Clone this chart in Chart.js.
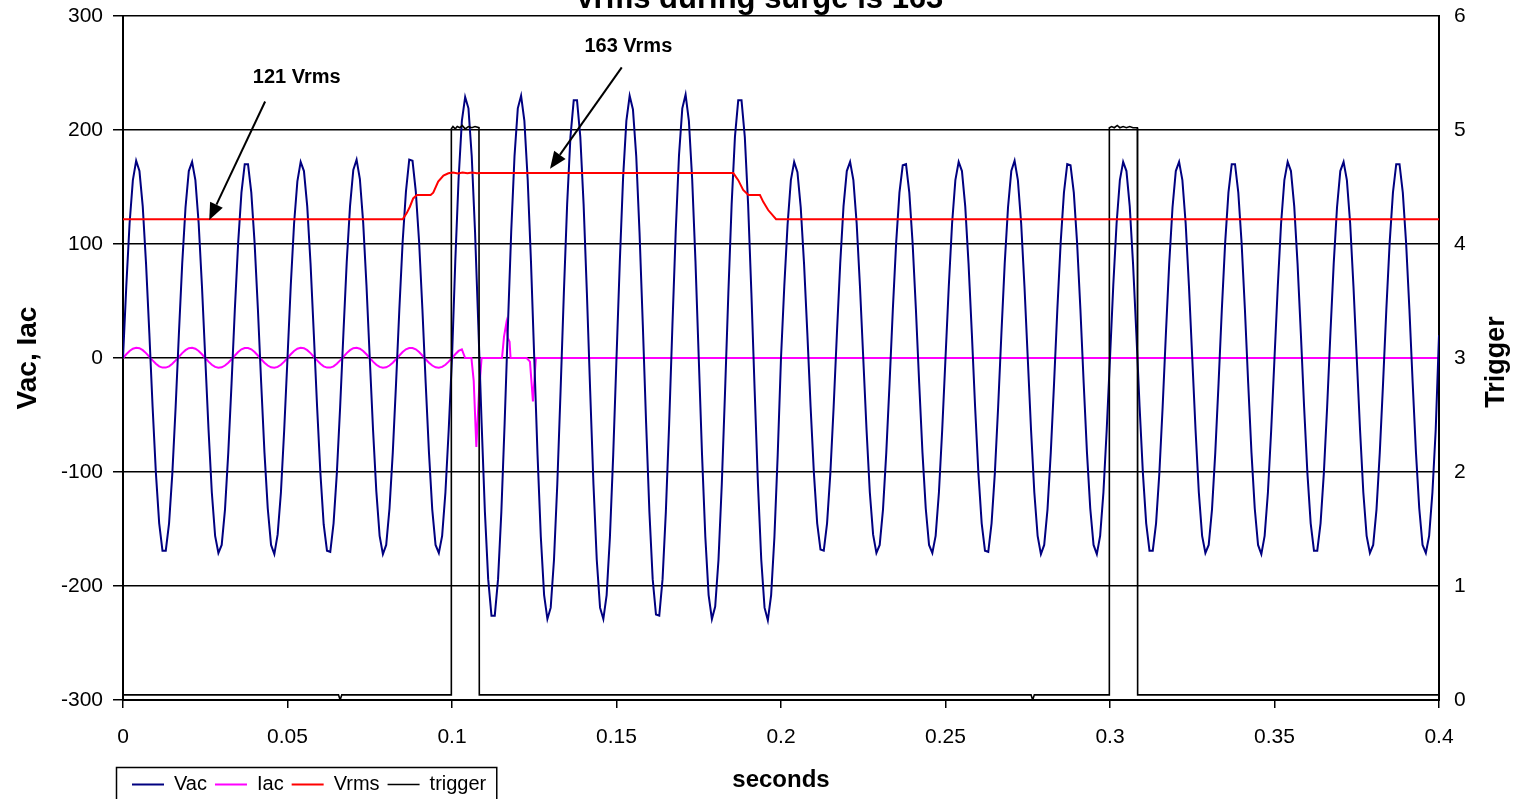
<!DOCTYPE html>
<html><head><meta charset="utf-8">
<script src="https://cdn.jsdelivr.net/npm/chart.js@4.4.0/dist/chart.umd.min.js"></script>
<style>html,body{margin:0;padding:0;background:#fff;overflow:hidden}canvas{display:block}</style>
</head><body>
<canvas id="c" width="1517" height="799"></canvas>
<script>
const FONT = "'Liberation Sans', Arial, sans-serif";
const chartTitle = 'Vrms during surge is 163';
const seriesNames = ['Vac', 'Iac', 'Vrms', 'trigger'];
const xTitle = 'seconds';
const leftTitle = 'Vac, Iac';
const rightTitle = 'Trigger';
const xTickLabels = ['0', '0.05', '0.1', '0.15', '0.2', '0.25', '0.3', '0.35', '0.4'];
const leftTickLabels = ['-300', '-200', '-100', '0', '100', '200', '300'];
const rightTickLabels = ['0', '1', '2', '3', '4', '5', '6'];

// Vac and Iac are sampled every 1 ms from t = 0
const sampleStep = 0.001;
const vacValues = [
  0, 63, 118, 156, 173, 164, 133, 83, 22, -43,
  -101, -145, -169, -169, -145, -101, -43, 22, 83, 132,
  164, 172, 156, 118, 63, 0, -63, -118, -156, -171,
  -164, -133, -83, -22, 43, 101, 145, 170, 170, 145,
  101, 43, -22, -83, -132, -164, -172, -155, -118, -63,
  0, 64, 118, 155, 172, 164, 133, 83, 21, -43,
  -101, -146, -169, -170, -145, -101, -43, 22, 84, 133,
  165, 174, 157, 119, 64, 0, -63, -117, -156, -172,
  -164, -132, -83, -22, 43, 102, 146, 174, 173, 146,
  102, 43, -22, -83, -133, -164, -171, -156, -118, -63,
  0, 85, 157, 208, 229, 219, 177, 111, 29, -57,
  -135, -194, -226, -226, -194, -135, -57, 29, 111, 177,
  219, 230, 208, 157, 85, 0, -85, -157, -208, -229,
  -219, -177, -111, -29, 57, 135, 194, 226, 226, 194,
  135, 57, -29, -111, -177, -219, -229, -208, -157, -85,
  0, 84, 158, 208, 230, 218, 177, 110, 29, -57,
  -135, -194, -225, -226, -194, -135, -58, 29, 111, 178,
  219, 231, 208, 157, 85, 0, -85, -157, -208, -229,
  -218, -177, -111, -29, 57, 135, 194, 226, 226, 194,
  135, 57, -29, -111, -177, -219, -230, -208, -157, -85,
  0, 63, 117, 156, 172, 163, 132, 83, 22, -43,
  -101, -145, -168, -169, -145, -101, -43, 22, 83, 133,
  164, 172, 156, 118, 63, 0, -63, -118, -155, -171,
  -164, -133, -83, -22, 43, 101, 145, 169, 170, 145,
  101, 43, -22, -83, -132, -164, -171, -156, -118, -63,
  0, 63, 118, 156, 172, 164, 133, 83, 22, -43,
  -101, -145, -169, -170, -145, -101, -43, 22, 83, 132,
  164, 173, 156, 118, 63, 0, -63, -118, -156, -172,
  -164, -133, -83, -22, 43, 101, 145, 170, 169, 145,
  101, 43, -22, -83, -132, -164, -172, -156, -118, -63,
  0, 64, 118, 156, 172, 164, 133, 83, 22, -43,
  -101, -145, -169, -169, -145, -101, -43, 22, 83, 132,
  164, 172, 156, 118, 63, 0, -63, -118, -156, -171,
  -164, -133, -83, -22, 43, 101, 145, 170, 170, 145,
  101, 43, -22, -83, -132, -164, -172, -156, -118, -63,
  0, 63, 118, 156, 172, 164, 133, 83, 22, -43,
  -101, -145, -169, -169, -145, -101, -43, 22, 83, 132,
  164, 172, 156, 118, 63, 0, -63, -118, -156, -171,
  -164, -133, -83, -22, 43, 101, 145, 170, 170, 145,
  101, 43, -22, -83, -132, -164, -171, -156, -118, -63,
  20
];
const iacSampleValues = [
  0, 3.3, 6.2, 8.1, 9.0, 8.6, 6.9, 4.3, 1.1, -2.1,
  -5.1, -7.3, -8.4, -8.4, -7.3, -5.1, -2.1, 1.1, 4.3, 6.9,
  8.6, 9.0, 8.1, 6.2, 3.3, 0, -3.2, -5.9, -7.8, -8.6,
  -8.2, -6.6, -4.1, -1.1, 2.2, 5.3, 7.6, 8.8, 8.8, 7.6,
  5.3, 2.2, -1.1, -4.1, -6.6, -8.2, -8.6, -7.8, -5.9, -3.2,
  0, 3.3, 6.2, 8.1, 9.0, 8.6, 6.9, 4.3, 1.1, -2.1,
  -5.1, -7.3, -8.4, -8.4, -7.3, -5.1, -2.1, 1.1, 4.3, 6.9,
  8.6, 9.0, 8.1, 6.2, 3.3, 0, -3.2, -5.9, -7.8, -8.6,
  -8.2, -6.6, -4.1, -1.1, 2.2, 5.3, 7.6, 8.8, 8.8, 7.6,
  5.3, 2.2, -1.1, -4.1, -6.6, -8.2, -8.6, -7.8, -5.9, -3.2,
  0, 3.3, 6.2, 7.6
];
const iacEventTimes = [0.1040, 0.1059, 0.1066, 0.1074, 0.1082, 0.1090, 0.1152, 0.1158, 0.1165, 0.1170, 0.1175, 0.1178, 0.1227, 0.1237, 0.1246, 0.1255, 0.4];
const iacEventValues = [0, 0, -20, -78, -30, 0, 0, 18.6, 30.4, 17.3, 14.3, 0, 0, -3.2, -38, 0, 0];

const vrmsTimes = [0, 0.0850, 0.0862, 0.0872, 0.0882, 0.0893, 0.0935, 0.0943, 0.0958, 0.0974, 0.0989, 0.1003, 0.1018, 0.1032, 0.1047, 0.1061, 0.1076, 0.1085, 0.1855, 0.1870, 0.1885, 0.1901, 0.1936, 0.1946, 0.1961, 0.1985, 0.4];
const vrmsValues = [121.7, 121.7, 126.9, 132.7, 140, 143, 143, 145, 154.7, 160, 162, 162.8, 161.9, 162.7, 162.0, 162.8, 162.1, 162.2, 162.2, 156, 147.4, 143, 143, 137, 129.8, 121.7, 121.7];

const trigTimes = [0, 0.0655, 0.0660, 0.0665, 0.0997, 0.0998, 0.1003, 0.1010, 0.1016, 0.1024, 0.1031, 0.1040, 0.1050, 0.1060, 0.1070, 0.1082, 0.1083, 0.2760, 0.2765, 0.2770, 0.2997, 0.2998, 0.3005, 0.3013, 0.3022, 0.3030, 0.3040, 0.3050, 0.3060, 0.3070, 0.3083, 0.3084, 0.4];
const trigValues = [0.045, 0.045, 0.0, 0.045, 0.045, 5.01, 5.03, 5.01, 5.03, 5.02, 5.04, 5.01, 5.03, 5.02, 5.03, 5.02, 0.045, 0.045, 0.0, 0.045, 0.045, 5.02, 5.03, 5.02, 5.04, 5.02, 5.03, 5.02, 5.03, 5.02, 5.02, 0.045, 0.045];

// callouts in data coordinates (seconds, Vac units)
const callouts = [
  { label: '121 Vrms', textAt: [0.0528, 246], from: [0.0432, 225], to: [0.0262, 121] },
  { label: '163 Vrms', textAt: [0.1536, 273], from: [0.1516, 255], to: [0.1298, 166] }
];

const seriesColors = ['#000080', '#FF00FF', '#FF0000', '#000000'];

const vacPoints = vacValues.map((v, i) => ({ x: +(i * sampleStep).toFixed(4), y: v }));
const iacPoints = iacSampleValues.map((v, i) => ({ x: +(i * sampleStep).toFixed(4), y: v }))
  .concat(iacEventTimes.map((t, i) => ({ x: t, y: iacEventValues[i] })));
const vrmsPoints = vrmsTimes.map((t, i) => ({ x: t, y: vrmsValues[i] }));
const trigPoints = trigTimes.map((t, i) => ({ x: t, y: trigValues[i] }));

const LEGEND_X = 132, LEGEND_Y = 774.5;

const layoutPlugin = {
  id: 'legendPlace',
  beforeDraw(chart) {
    const lg = chart.legend;
    const p = lg.options.labels.padding;
    lg.left = LEGEND_X - p; lg.right = lg.left + 1400;
    lg.top = LEGEND_Y - p; lg.bottom = lg.top + 200;
  }
};

const decorPlugin = {
  id: 'decor',
  afterDraw(chart) {
    const ctx = chart.ctx, ca = chart.chartArea;
    const xs = chart.scales.x, ys = chart.scales.y;
    ctx.save();
    // clipped title
    ctx.fillStyle = '#000';
    ctx.font = 'bold 31px ' + FONT;
    ctx.textAlign = 'center';
    ctx.textBaseline = 'alphabetic';
    ctx.fillText(chartTitle, (ca.left + ca.right) / 2 - 22, 8);
    // callouts
    ctx.font = 'bold 20px ' + FONT;
    ctx.textBaseline = 'middle';
    ctx.strokeStyle = '#000';
    ctx.lineWidth = 2;
    callouts.forEach(c => {
      ctx.fillText(c.label, xs.getPixelForValue(c.textAt[0]), ys.getPixelForValue(c.textAt[1]));
      const x1 = xs.getPixelForValue(c.from[0]), y1 = ys.getPixelForValue(c.from[1]);
      const x2 = xs.getPixelForValue(c.to[0]), y2 = ys.getPixelForValue(c.to[1]);
      const ang = Math.atan2(y2 - y1, x2 - x1), hl = 17, hw = 7;
      const bx = x2 - hl * Math.cos(ang), by = y2 - hl * Math.sin(ang);
      ctx.beginPath(); ctx.moveTo(x1, y1); ctx.lineTo(bx, by); ctx.stroke();
      ctx.beginPath(); ctx.moveTo(x2, y2);
      ctx.lineTo(bx - hw * Math.sin(ang), by + hw * Math.cos(ang));
      ctx.lineTo(bx + hw * Math.sin(ang), by - hw * Math.cos(ang));
      ctx.closePath(); ctx.fill();
    });
    // right axis title, reading upward
    const y2s = chart.scales.y2;
    ctx.font = 'bold 27px ' + FONT;
    ctx.translate(y2s.right - 20, (ca.top + ca.bottom) / 2 + 4);
    ctx.rotate(-Math.PI / 2);
    ctx.textAlign = 'center';
    ctx.fillText(rightTitle, 0, 0);
    ctx.restore();
    // legend frame
    const lg = chart.legend;
    ctx.save();
    ctx.strokeStyle = '#000';
    ctx.lineWidth = 1.5;
    const w = lg.lineWidths ? lg.lineWidths[0] : 370;
    ctx.strokeRect(LEGEND_X - 15.5, 767.5, w + 18, 60);
    ctx.restore();
  }
};

function fixVertical(width) {
  return function (s) { s.width = width; s.paddingTop = 0; s.paddingBottom = 0; };
}

new Chart(document.getElementById('c'), {
  type: 'line',
  data: {
    datasets: [
      { label: seriesNames[0], data: vacPoints, yAxisID: 'y', borderColor: seriesColors[0], backgroundColor: seriesColors[0], borderWidth: 2, order: 2 },
      { label: seriesNames[1], data: iacPoints, yAxisID: 'y', borderColor: seriesColors[1], backgroundColor: seriesColors[1], borderWidth: 2, order: 3 },
      { label: seriesNames[2], data: vrmsPoints, yAxisID: 'y', borderColor: seriesColors[2], backgroundColor: seriesColors[2], borderWidth: 2, order: 0 },
      { label: seriesNames[3], data: trigPoints, yAxisID: 'y2', borderColor: seriesColors[3], backgroundColor: seriesColors[3], borderWidth: 1.6, order: 1 }
    ]
  },
  options: {
    responsive: false,
    animation: false,
    devicePixelRatio: 1,
    elements: { point: { radius: 0 }, line: { tension: 0 } },
    layout: { padding: { top: 16, left: 0, right: 0, bottom: 0 } },
    scales: {
      x: {
        type: 'linear', min: 0, max: 0.4,
        afterFit(s) { s.height = 98; },
        border: { display: true, color: '#000', width: 2 },
        grid: { drawOnChartArea: false, drawTicks: true, tickLength: 8, color: '#000', lineWidth: 1.5 },
        ticks: { stepSize: 0.05, color: '#000', font: { family: FONT, size: 21 }, padding: 17, maxRotation: 0,
          callback: (v, i) => xTickLabels[i] },
        title: { display: true, text: xTitle, color: '#000', font: { family: FONT, size: 24, weight: 'bold' }, padding: { top: 0, bottom: 3 } }
      },
      y: {
        type: 'linear', position: 'left', min: -300, max: 300,
        afterFit: fixVertical(123),
        border: { display: true, color: '#000', width: 2 },
        grid: { drawOnChartArea: true, drawTicks: true, tickLength: 10, color: '#000', lineWidth: 1.5 },
        ticks: { stepSize: 100, color: '#000', font: { family: FONT, size: 21 }, padding: 10,
          callback: (v, i) => leftTickLabels[i] },
        title: { display: true, text: leftTitle, color: '#000', font: { family: FONT, size: 28, weight: 'bold' }, padding: { top: 11, bottom: 0 } }
      },
      y2: {
        type: 'linear', position: 'right', min: 0, max: 6,
        afterFit: fixVertical(78),
        border: { display: true, color: '#000', width: 2 },
        grid: { display: false, drawOnChartArea: false, drawTicks: false },
        ticks: { stepSize: 1, color: '#000', font: { family: FONT, size: 21 }, padding: 15,
          callback: (v, i) => rightTickLabels[i] },
        title: { display: false }
      }
    },
    plugins: {
      title: { display: false },
      tooltip: { enabled: false },
      legend: {
        display: true, position: 'bottom', align: 'start', maxHeight: 1,
        labels: { usePointStyle: true, pointStyle: 'line', pointStyleWidth: 32, padding: 8, color: '#000',
          font: { family: FONT, size: 20 },
          sort: (a, b) => a.datasetIndex - b.datasetIndex }
      }
    }
  },
  plugins: [layoutPlugin, decorPlugin]
});
</script>
</body></html>
